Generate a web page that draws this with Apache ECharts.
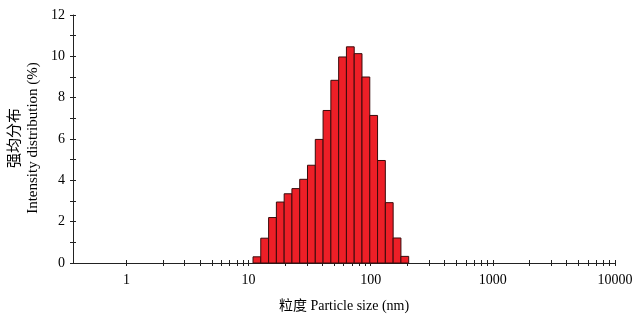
<!DOCTYPE html>
<html>
<head>
<meta charset="utf-8">
<script src="https://cdn.jsdelivr.net/npm/echarts@6/dist/echarts.min.js"></script>
<style>html,body{margin:0;padding:0;background:#fff}#c{width:643px;height:322px}</style>
</head>
<body>
<div id="c"></div>
<script>
// Bin centre sizes (nm) and intensity (%)
var sizes = [11.7, 13.54, 15.69, 18.17, 21.04, 24.36, 28.21, 32.67, 37.84, 43.82, 50.75, 58.77, 68.06, 78.82, 91.28, 105.7, 122.4, 141.8, 164.2, 190.1];
var intensity = [0.3, 1.2, 2.2, 2.95, 3.35, 3.6, 4.05, 4.73, 5.98, 7.38, 8.84, 9.97, 10.46, 10.13, 9.0, 7.14, 4.96, 2.92, 1.21, 0.32];
var xLabelValues = [1, 10, 100, 1000, 10000];
var xTickValues = [1,2,3,4,5,6,7,8,9,10,20,30,40,50,60,70,80,90,100,200,300,400,500,600,700,800,900,1000,2000,3000,4000,5000,6000,7000,8000,9000,10000];
var yMin = 0, yMax = 12;
var xMinSize = 0.365, xMaxSize = 10000;
var binLogWidth = Math.log10(10000 / 0.4) / 69;

var LOG = function (v) { return Math.log10(v); };
var FONT = '"Liberation Serif", "Noto Sans CJK SC", serif';
var chart = echarts.init(document.getElementById('c'));
var data = sizes.map(function (s, i) { return [LOG(s), intensity[i]]; });

var axisLine = { show: true, onZero: false, lineStyle: { color: '#222', width: 1 } };
var noLine = { show: false, onZero: false };
chart.setOption({
  animation: false,
  grid: { left: 73, right: 28, top: 15, bottom: 59 },
  xAxis: [{
    type: 'value', min: LOG(xMinSize), max: LOG(xMaxSize), position: 'bottom',
    axisLine: axisLine,
    axisTick: { show: true, inside: false, length: 3, customValues: xTickValues.map(LOG), lineStyle: { color: '#222' } },
    axisLabel: { customValues: xLabelValues.map(LOG), margin: 10, fontFamily: FONT, fontSize: 14, color: '#000',
      formatter: function (v) { return String(Math.round(Math.pow(10, v))); } },
    splitLine: { show: false },
    name: '粒度 Particle size (nm)', nameLocation: 'middle', nameGap: 36,
    nameTextStyle: { fontFamily: FONT, fontSize: 14, color: '#000' }
  }, {
    type: 'value', min: LOG(xMinSize), max: LOG(xMaxSize), position: 'bottom',
    axisLine: noLine,
    axisTick: { show: true, inside: true, length: 3, customValues: xTickValues.map(LOG), lineStyle: { color: '#222' } },
    axisLabel: { show: false }, splitLine: { show: false }
  }],
  yAxis: [{
    type: 'value', min: yMin, max: yMax, interval: 1, position: 'left',
    axisLine: axisLine,
    axisTick: { show: true, inside: false, length: 3, lineStyle: { color: '#222' } },
    axisLabel: { margin: 8, fontFamily: FONT, fontSize: 14, color: '#000',
      formatter: function (v) { return v % 2 === 0 ? String(v) : ''; } },
    splitLine: { show: false }
  }, {
    type: 'value', min: yMin, max: yMax, interval: 1, position: 'left',
    axisLine: noLine,
    axisTick: { show: true, inside: true, length: 3, lineStyle: { color: '#222' } },
    axisLabel: { show: false }, splitLine: { show: false }
  }],
  graphic: [{
    type: 'text', x: 24, y: 138, rotation: Math.PI / 2,
    style: { text: '强均分布\nIntensity distribution (%)', font: '15px ' + FONT, fill: '#000',
      align: 'center', verticalAlign: 'middle', lineHeight: 18 }
  }],
  series: [{
    type: 'custom', xAxisIndex: 0, yAxisIndex: 0,
    data: data,
    renderItem: function (params, api) {
      var c = api.value(0), v = api.value(1);
      var p0 = api.coord([c - binLogWidth / 2, 0]);
      var p1 = api.coord([c + binLogWidth / 2, v]);
      return {
        type: 'rect',
        shape: { x: p0[0], y: p1[1], width: p1[0] - p0[0], height: p0[1] - p1[1] },
        style: { fill: '#ED1F27', stroke: '#3a0c0c', lineWidth: 1 }
      };
    }
  }]
});
</script>
</body>
</html>
